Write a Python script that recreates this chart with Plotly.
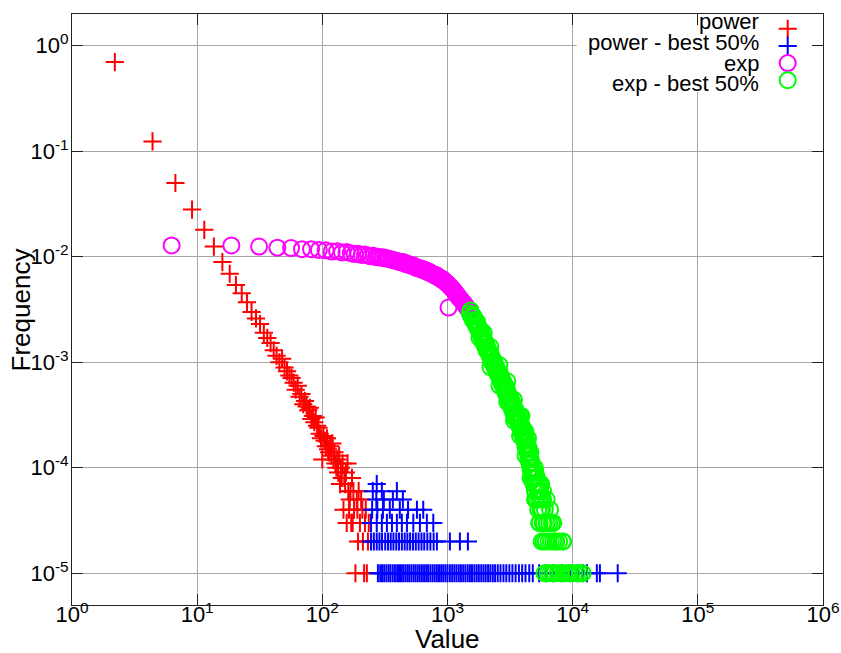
import plotly.graph_objects as go

# ---- power-law sample: histogram frequencies (lower values) ----
power_x = [2.2, 4.4, 6.7, 9.1, 11.4, 13.6, 15.9, 18.2, 20.4, 22.7, 25.0, 27.2, 29.5, 31.8,
           34.1, 36.3, 38.6, 40.9, 43.1, 45.4, 47.7, 49.9, 52.2, 54.5, 56.8, 59.0, 61.3, 63.6,
           65.8, 68.1, 70.4, 72.6, 74.9, 77.2, 79.5, 81.7, 84.0, 86.3, 88.5, 90.8, 93.1, 95.3,
           97.6, 99.9, 102.1, 104.4, 106.7, 108.9, 111.2, 113.5, 115.7, 118.0, 120.3, 122.6,
           124.8, 127.1, 129.4, 131.6, 133.9, 136.2, 138.4, 140.7, 143.0, 145.2, 147.5, 149.8,
           152.1, 154.3, 156.6, 158.9, 161.1, 163.4, 165.7, 167.9, 170.2, 172.5, 174.7, 177.0,
           179.2, 183.8, 188.3, 190.6, 192.9, 195.1, 199.7, 204.2, 208.8, 211.0, 215.6, 219.1,
           222.4, 226.9, 231.5, 235.1]
power_y = [0.70, 0.124, 0.050, 0.028, 0.018, 0.0125, 0.0089, 0.0069, 0.0054, 0.0045, 0.0037,
           0.0030, 0.0026, 0.0023, 0.0019, 0.0017, 0.00152, 0.0013, 0.00115, 0.00100, 0.00108,
           0.00089, 0.00082, 0.00075, 0.00071, 0.00064, 0.00055, 0.00060, 0.00047, 0.00050,
           0.00040, 0.00043, 0.00038, 0.00035, 0.00037, 0.00029, 0.00031, 0.00027, 0.00030,
           0.00025, 0.00024, 0.00021, 0.00019, 0.00012, 0.00020, 0.00018, 0.00016, 0.00019,
           0.00015, 0.00014, 0.00016, 0.00013, 0.00017, 0.00012, 0.00014, 0.00011, 0.00010,
           0.00012, 0.00009, 0.00013, 0.00007, 0.00010, 0.00008, 0.00011, 0.00004, 0.00008,
           0.00007, 0.00009, 0.00003, 0.00011, 0.00006, 0.00004, 0.00005, 0.00006, 0.00003,
           0.00008, 0.00003, 0.00006, 0.00004, 0.00001, 0.00005, 0.00004, 0.00002, 0.00006,
           0.00003, 0.00005, 0.00004, 0.00002, 0.00001, 0.00003, 0.00004, 0.00001, 0.00002,
           0.00003]

# ---- power-law sample: best 50% (upper values) ----
power_best_x = [
    # count 1
    278, 290, 300, 312, 325, 338, 350, 365, 380, 396, 410, 425, 442, 460, 478, 495, 515, 536,
    556, 578, 600, 624, 650, 676, 700, 730, 760, 790, 822, 855, 890, 925, 962, 1000, 1045,
    1090, 1135, 1180, 1230, 1280, 1335, 1390, 1450, 1510, 1570, 1640, 1710, 1780, 1860, 1940,
    2020, 2110, 2200, 2300, 2400, 2520, 2650, 2800, 2950, 3120, 3300, 3500, 3720, 3950, 4200,
    4500, 4800, 5400, 6100, 7000, 8200, 9500, 11000, 12100, 13000, 15600, 16500, 22900,
    # count 2
    245, 258, 272, 286, 300, 318, 335, 352, 370, 390, 410, 432, 455, 478, 503, 530, 558, 588,
    620, 652, 690, 730, 775, 823, 1045, 1256, 1455,
    # count 3
    245, 272, 299, 328, 360, 394, 432, 474, 533, 602, 684, 770,
    # count 4
    250, 275, 305, 346, 416, 484, 570, 640,
    # count 5
    270, 310, 366, 440,
    # count 6
    253, 299, 394,
    # count 7
    272]
power_best_y = ([1e-5] * 78 + [2e-5] * 27 + [3e-5] * 12 + [4e-5] * 8 +
                [5e-5] * 4 + [6e-5] * 3 + [7e-5] * 1)

# ---- exponential sample: histogram frequencies (lower values) ----
exp_x = [6.25, 18.75, 31.25, 43.75, 56.25, 68.75, 81.25, 93.75, 106.25, 118.75, 131.25,
         143.75, 156.25, 168.75, 181.25, 193.75, 206.25, 218.75, 231.25, 243.75, 256.25,
         268.75, 281.25, 293.75, 306.25, 318.75, 331.25, 343.75, 356.25, 368.75, 381.25,
         393.75, 406.25, 418.75, 431.25, 443.75, 456.25, 468.75, 481.25, 493.75, 506.25,
         518.75, 531.25, 543.75, 556.25, 568.75, 581.25, 593.75, 606.25, 618.75, 631.25,
         643.75, 656.25, 668.75, 681.25, 693.75, 706.25, 718.75, 731.25, 743.75, 756.25,
         768.75, 781.25, 793.75, 806.25, 818.75, 831.25, 843.75, 856.25, 868.75, 881.25,
         893.75, 906.25, 918.75, 931.25, 943.75, 956.25, 968.75, 981.25, 993.75, 1006.25,
         1018.75, 1031.25, 1056.25, 1081.25, 1106.25, 1131.25, 1156.25, 1181.25, 1206.25,
         1231.25, 1256.25, 1281.25, 1306.25, 1331.25, 1356.25, 1381.25, 1406.25, 1431.25,
         1456.25, 1481.25]
exp_y = [0.0128, 0.0128, 0.0125, 0.0122, 0.0121, 0.0118, 0.0118, 0.0116, 0.0115, 0.0112,
         0.0113, 0.0110, 0.0111, 0.0108, 0.0106, 0.0107, 0.0104, 0.0105, 0.0103, 0.0101,
         0.0102, 0.0099, 0.0100, 0.0098, 0.0099, 0.0096, 0.0097, 0.0095, 0.0094, 0.0093,
         0.0092, 0.0091, 0.0090, 0.0089, 0.0088, 0.0089, 0.0086, 0.0085, 0.0086, 0.0084,
         0.0083, 0.0082, 0.0083, 0.0080, 0.0080, 0.0078, 0.0079, 0.0077, 0.0078, 0.0076,
         0.0075, 0.0076, 0.0074, 0.0073, 0.0074, 0.0072, 0.0071, 0.0072, 0.0070, 0.0069,
         0.0069, 0.0068, 0.0067, 0.0068, 0.0066, 0.0065, 0.0066, 0.0064, 0.0063, 0.0063,
         0.0062, 0.0061, 0.0062, 0.0060, 0.0059, 0.0059, 0.0058, 0.0057, 0.0057, 0.0056,
         0.0055, 0.0033, 0.0053, 0.0052, 0.0050, 0.0049, 0.0047, 0.0046, 0.0044, 0.0043,
         0.0041, 0.0040, 0.0039, 0.0038, 0.0037, 0.0036, 0.0035, 0.0034, 0.0033, 0.0032,
         0.0031]

# ---- exponential sample: best 50% (upper values) ----
exp_best_x = [1510, 1530, 1550, 1575, 1600, 1625, 1650, 1675, 1700, 1725, 1750, 1775, 1800,
              1825, 1850, 1875, 1900, 1925, 1950, 1975, 2000, 2025, 2050, 2075, 2100, 2125,
              2150, 2175, 2200, 2225, 2250, 2275, 2300, 2330, 2360, 2390, 2420, 2450, 2480,
              2510, 2540, 2570, 2600, 2630, 2660, 2690, 2720, 2750, 2780, 2810, 2840, 2870,
              2900, 2930, 2960, 2990, 3030, 3070, 3110, 3150, 3190, 3230, 3270, 3310, 3350,
              3390, 3430, 3470, 3510, 3550, 3590, 3630, 3670, 3710, 3750, 3790, 3830, 3870,
              3910, 3950, 3990, 4030, 4070, 4110, 4150, 4190, 4230, 4270, 4310, 4350, 4390,
              4430, 4470, 4510, 4550, 4590, 4630, 4670, 4710, 4750, 4800, 4850, 4900, 4950,
              5000, 5050, 5100, 5150, 5200, 5250, 5300, 5350, 5400, 5450, 5500, 5550, 5600,
              5650, 5700, 5750, 5800, 5850, 5900, 5950, 6000, 6100, 6200, 6300, 6400, 6500,
              6600, 6700, 6800, 6900, 7000, 7200, 7400, 7600, 7800, 8000, 8300, 8600, 9000,
              9400, 9800, 10300, 10800, 11400, 12000,
              # scattered bins either side of the main band
              1800, 1950, 2200, 2200, 2600, 2600, 3000, 3000, 3400, 3400, 3800, 3800,
              4200, 4200, 4600, 4600, 5000, 5000, 5400, 5400, 6200, 6900, 7300,
              8400, 7000, 6600, 6200, 5800, 5600, 4400, 3900]
exp_best_y = [0.0029, 0.0031, 0.0027, 0.0028, 0.0025, 0.0027, 0.0024, 0.0025, 0.0022, 0.0024,
              0.0021, 0.0020, 0.0021, 0.0019, 0.0018, 0.0019, 0.0016, 0.0017, 0.0015, 0.0016,
              0.0014, 0.0015, 0.0013, 0.0014, 0.00125, 0.0013, 0.0012, 0.00115, 0.0011,
              0.00118, 0.00102, 0.0011, 0.00098, 0.00104, 0.00092, 0.00096, 0.00086, 0.00090,
              0.00080, 0.00085, 0.00076, 0.00080, 0.00072, 0.00078, 0.00068, 0.00072, 0.00063,
              0.00068, 0.00060, 0.00064, 0.00056, 0.00061, 0.00052, 0.00058, 0.00049, 0.00055,
              0.00046, 0.00050, 0.00042, 0.00047, 0.00039, 0.00044, 0.00036, 0.00041, 0.00033,
              0.00038, 0.00030, 0.00036, 0.00034, 0.00030, 0.00033, 0.00028, 0.00030, 0.00026,
              0.00028, 0.00024, 0.00027, 0.00022, 0.00025, 0.00021, 0.00024, 0.00019, 0.00022,
              0.00018, 0.00020, 0.00016, 0.00019, 0.00015, 0.00017, 0.00014, 0.00016, 0.00012,
              0.00015, 0.00011, 0.00013, 0.00010, 0.00012, 0.00009, 0.00011, 0.00008, 0.00010,
              0.00007, 0.00009, 0.00008, 0.00006, 0.00009, 0.00007, 0.00005, 0.00008, 0.00006,
              0.00004, 0.00007, 0.00005, 0.00003, 0.00006, 0.00004, 0.00005, 0.00002, 0.00004,
              0.00003, 0.00005, 0.00002, 0.00003, 0.00001, 0.00004, 0.00002, 0.00003, 0.00001,
              0.00002, 0.00003, 0.00001, 0.00002, 0.00003, 0.00001, 0.00002, 0.00001, 0.00002,
              0.00001, 0.00002, 0.00001, 0.00002, 0.00001, 0.00001, 0.00001, 0.00001, 0.00001,
              0.00001, 0.00001, 0.00001,
              0.0017, 0.0019, 0.0014, 0.0009, 0.00094, 0.00060, 0.00066, 0.00042, 0.00044,
              0.00028, 0.00031, 0.00020, 0.00022, 0.00013, 0.00014, 0.00008, 0.00010, 0.00005,
              0.00007, 0.00003, 0.00003, 0.00003, 0.00002,
              0.00002, 0.00003, 0.00004, 0.00005, 0.00006, 0.00007, 0.00019, 0.00031]

x_tickvals = [1, 10, 100, 1000, 10000, 100000, 1000000]
x_ticktext = ["10<sup>0</sup>", "10<sup>1</sup>", "10<sup>2</sup>", "10<sup>3</sup>",
              "10<sup>4</sup>", "10<sup>5</sup>", "10<sup>6</sup>"]
y_tickvals = [1e-5, 1e-4, 1e-3, 1e-2, 1e-1, 1]
y_ticktext = ["10<sup>-5</sup>", "10<sup>-4</sup>", "10<sup>-3</sup>", "10<sup>-2</sup>",
              "10<sup>-1</sup>", "10<sup>0</sup>"]

series_names = ["power", "power - best 50%", "exp", "exp - best 50%"]
series_colors = ["#ff0000", "#0000ff", "#ff00ff", "#00ff00"]
series_symbols = ["cross-thin", "cross-thin", "circle-open", "circle-open"]
series_sizes = [13, 13, 16, 16]

FONT = "Liberation Sans, Arial, sans-serif"

fig = go.Figure()

series_data = [(power_x, power_y), (power_best_x, power_best_y),
               (exp_x, exp_y), (exp_best_x, exp_best_y)]
for (xs, ys), name, col, sym, sz in zip(series_data, series_names, series_colors,
                                        series_symbols, series_sizes):
    fig.add_trace(go.Scatter(
        x=xs, y=ys, mode="markers", name=name, showlegend=False,
        marker=dict(symbol=sym, size=sz, color=col, line=dict(color=col, width=2)),
    ))

# key drawn on a hidden unit overlay: opaque box, then text left / symbol right
key_box_x = [0.672, 1.0, 1.0, 0.672, 0.672]
key_box_y = [0.868, 0.868, 0.98, 0.98, 0.868]
fig.add_trace(go.Scatter(
    x=key_box_x, y=key_box_y, xaxis="x2", yaxis="y2", mode="lines",
    fill="toself", fillcolor="white", line=dict(width=0, color="white"),
    showlegend=False, hoverinfo="skip",
))

key_text_x = 0.918
key_text_y = [0.988, 0.951, 0.917, 0.883]
key_mark_x = 0.953
key_mark_y = [0.975, 0.946, 0.917, 0.888]
for name, col, sym, sz, ty, my in zip(series_names, series_colors, series_symbols,
                                      series_sizes, key_text_y, key_mark_y):
    fig.add_trace(go.Scatter(
        x=[key_mark_x], y=[my], xaxis="x2", yaxis="y2", mode="markers",
        showlegend=False, hoverinfo="skip",
        marker=dict(symbol=sym, size=sz, color=col, line=dict(color=col, width=2)),
    ))
    fig.add_annotation(x=key_text_x, y=ty, xref="paper", yref="paper", text=name,
                       showarrow=False, xanchor="right", yanchor="middle",
                       font=dict(family=FONT, size=22, color="black"))

axis_common = dict(
    showgrid=True, gridcolor="#a6a6a6", gridwidth=1,
    ticks="inside", ticklen=11, tickwidth=1, tickcolor="#222222",
    showline=True, linecolor="#222222", linewidth=1, mirror="ticks",
    zeroline=False, automargin=False,
    tickfont=dict(family=FONT, size=22, color="black"),
)

fig.update_layout(
    width=841, height=653, autosize=False,
    margin=dict(l=72, r=18, t=14, b=48, autoexpand=False),
    paper_bgcolor="white", plot_bgcolor="white", showlegend=False,
    font=dict(family=FONT, size=22, color="black"),
    xaxis=dict(type="log", range=[0, 6], tickvals=x_tickvals, ticktext=x_ticktext,
               ticklabelstandoff=-10, **axis_common),
    yaxis=dict(type="log", range=[-5.301, 0.301], tickvals=y_tickvals, ticktext=y_ticktext,
               ticklabelstandoff=-2, **axis_common),
    xaxis2=dict(overlaying="x", anchor="y2", range=[0, 1], visible=False,
                fixedrange=True, automargin=False),
    yaxis2=dict(overlaying="y", anchor="x2", range=[0, 1], visible=False,
                fixedrange=True, automargin=False),
)

fig.add_annotation(x=0.5, y=-0.085, xref="paper", yref="paper", text="Value",
                   showarrow=False, xanchor="center", yanchor="bottom", borderpad=0,
                   font=dict(family=FONT, size=26, color="black"))
fig.add_annotation(x=-0.068, y=0.5, xref="paper", yref="paper", text="Frequency",
                   showarrow=False, textangle=-90, xanchor="center", yanchor="middle",
                   font=dict(family=FONT, size=26, color="black"))

fig.write_html("out.html")
